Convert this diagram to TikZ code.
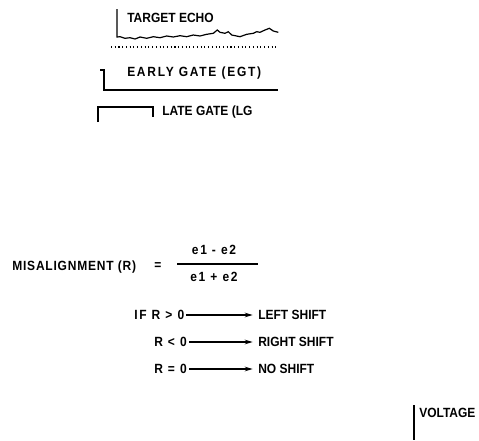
\documentclass[tikz,border=0pt]{standalone}
\usepackage{fontspec}
\setmainfont[FakeStretch=0.9]{Liberation Sans}
\newfontfamily\wfont[FakeStretch=0.9,LetterSpace=13]{Liberation Sans}
\newfontfamily\mfont[FakeStretch=0.9,LetterSpace=6]{Liberation Sans}
\usetikzlibrary{arrows.meta,positioning}
\tikzset{
  lbl/.style={anchor=west,inner sep=0pt,font=\fontsize{10}{11}\selectfont\bfseries},
  wlbl/.style={lbl,font=\fontsize{10}{11}\selectfont\wfont\bfseries},
  mlbl/.style={lbl,font=\fontsize{10}{11}\selectfont\mfont\bfseries},
  ln/.style={line width=0.9pt},
  ar/.style={-{Stealth[length=6pt,width=3.5pt]},line width=0.8pt,shorten <=1.5pt,shorten >=4pt},
}
\begin{document}
\begin{tikzpicture}[x=0.75pt,y=-0.75pt]
\useasboundingbox (0,0) rectangle (479,440);
% target echo
\draw[ln] (117,9) -- (117,37) -- (120,36.7) -- (125,38.3) -- (130,37.7) -- (135,39) -- (140,37)
  -- (146.7,38.3) -- (153.3,36.7) -- (160,37.7) -- (166.7,36) -- (173.3,37) -- (180,35.7)
  -- (186.7,36.7) -- (193.3,35) -- (200,36) -- (206.7,34.3) -- (213.3,33.3) -- (217.3,30)
  -- (220,32.3) -- (225,33.3) -- (228.3,31.7) -- (231.7,35) -- (240,36.7) -- (246.7,34.3)
  -- (253.3,33.3) -- (256.7,31.7) -- (260,32.3) -- (265,30) -- (269.3,28.3) -- (273.3,31) -- (278.3,32.3);
\node[lbl] (echo) at (127,18) {TARGET ECHO};
\draw[line width=0.8pt,dotted] (111,47) -- (277,47);
% early gate
\draw[ln] (100,70) -- (104,70) -- (104,90) -- (278,90);
\node[wlbl] (egt) at (127,73) {EARLY GATE (EGT)};
% late gate
\draw[ln] (98,122) -- (98,107) -- (153,107) -- (153,117);
\node[lbl] (lg) at (162,112) {LATE GATE (LG};
% misalignment
\node[mlbl] (mis) at (12,267) {MISALIGNMENT (R)};
\node[lbl,anchor=center] (eq) at (158,266) {=};
\node[wlbl,anchor=center] (num) at (214,250) {e1 - e2};
\node[wlbl,anchor=center] (den) at (214,277) {e1 + e2};
\draw[ln] (177,264) -- (258,264);
% shift rules
\node[wlbl] (c1) at (134,315) {IF R > 0};
\node[wlbl] (c2) at (154,342) {R < 0};
\node[wlbl] (c3) at (154,369) {R = 0};
\node[lbl] (r1) at (258,315) {LEFT SHIFT};
\node[lbl] (r2) at (258,342) {RIGHT SHIFT};
\node[lbl] (r3) at (258,369) {NO SHIFT};
\draw[ar] (c1) -- (r1);
\draw[ar] (c2) -- (r2);
\draw[ar] (c3) -- (r3);
% voltage axis
\draw[ln] (414,405) -- (414,440);
\node[lbl] (volt) at (419,413) {VOLTAGE};
\end{tikzpicture}
\end{document}
